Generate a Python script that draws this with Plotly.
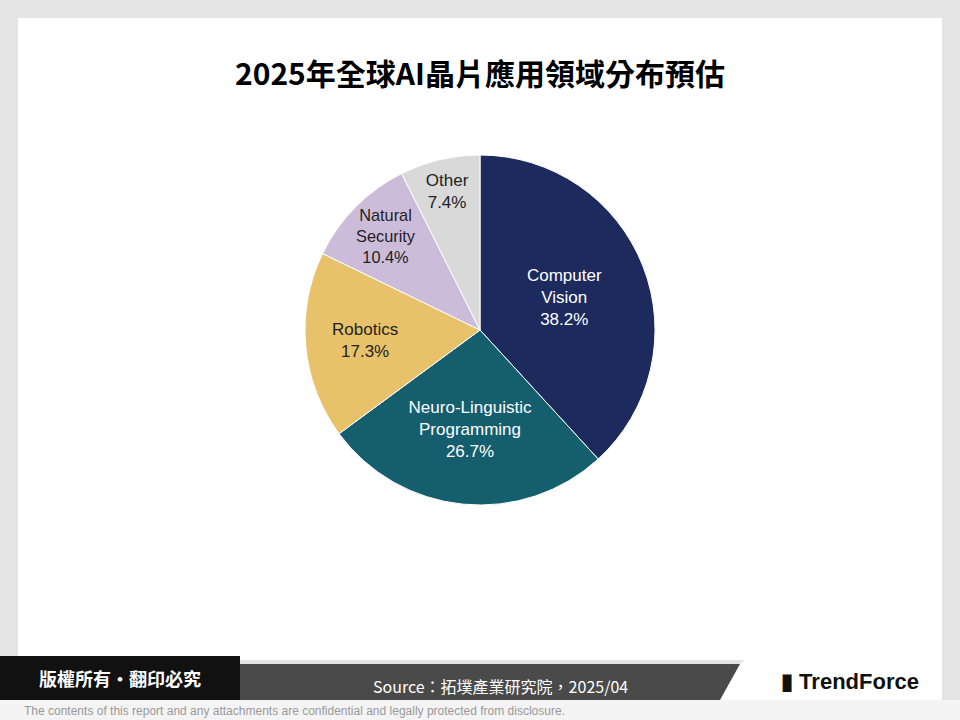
import plotly.graph_objects as go

labels = ["Computer<br>Vision", "Neuro-Linguistic<br>Programming", "Robotics", "Natural<br>Security", "Other"]
values = [38.2, 26.7, 17.3, 10.4, 7.4]
colors = ["#1c2a5e", "#155e6e", "#e8c26a", "#cdbcd9", "#d9d9d9"]
text_colors = ["white", "white", "#222", "#222", "#222"]

W, H = 960, 720
def px(x0, y0, x1, y1):
    return dict(xref="paper", yref="paper", x0=x0/W, x1=x1/W, y0=1-y1/H, y1=1-y0/H)

fig = go.Figure(go.Pie(
    labels=labels, values=values, sort=False, direction="clockwise", rotation=0,
    marker=dict(colors=colors, line=dict(color="white", width=1)),
    texttemplate="%{label}<br>%{value:.1f}%", textposition="inside",
    insidetextorientation="horizontal",
    textfont=dict(family="Liberation Sans, Arial", size=17, color=text_colors),
    domain=dict(x=[(480-175)/W, (480+175)/W], y=[1-505/H, 1-155/H]),
    showlegend=False, hoverinfo="skip",
))

shapes = [
    dict(type="rect", **px(0, 0, 960, 720), fillcolor="#e4e4e4", line_width=0, layer="below"),
    dict(type="rect", **px(18, 18, 942, 660), fillcolor="white", line_width=0, layer="below"),
    dict(type="rect", **px(0, 664, 740, 700), fillcolor="#4a4a4a", line_width=0),
    dict(type="path", xref="paper", yref="paper",
         path=f"M {720/W} {1-700/H} L {740/W} {1-664/H} L {775/W} {1-638/H} L {942/W} {1-638/H} L {942/W} {1-700/H} Z",
         fillcolor="white", line_width=0),
    dict(type="rect", **px(0, 656, 240, 700), fillcolor="#111111", line_width=0),
    dict(type="rect", **px(0, 700, 960, 720), fillcolor="#f4f4f4", line_width=0),
]
def A(x, y, text, font, **kw):
    d = dict(x=x/W, y=1-y/H, xref="paper", yref="paper", showarrow=False, text=text,
             font=font, xanchor="center", yanchor="middle")
    d.update(kw)
    return d
ann = [
    A(480, 72, "<b>2025年全球AI晶片應用領域分布預估</b>", dict(family="Noto Sans CJK TC", size=30, color="black")),
    A(120, 678, "<b>版權所有・翻印必究</b>", dict(family="Noto Sans CJK TC", size=18, color="white")),
    A(500, 686, "Source：拓墣產業研究院，2025/04", dict(family="Noto Sans CJK TC", size=16, color="white")),
    A(850, 681, "<b>▮ TrendForce</b>", dict(family="Liberation Sans", size=22, color="#111")),
    A(22, 711, "The contents of this report and any attachments are confidential and legally protected from disclosure.",
      dict(family="Liberation Sans", size=12, color="#999"), xanchor="left"),
]
fig.update_layout(width=W, height=H, margin=dict(l=0, r=0, t=0, b=0),
                  paper_bgcolor="white", plot_bgcolor="white",
                  shapes=shapes, annotations=ann)
fig.write_html("out.html", config={"displayModeBar": False},
               post_script="document.body.style.margin='0';")
